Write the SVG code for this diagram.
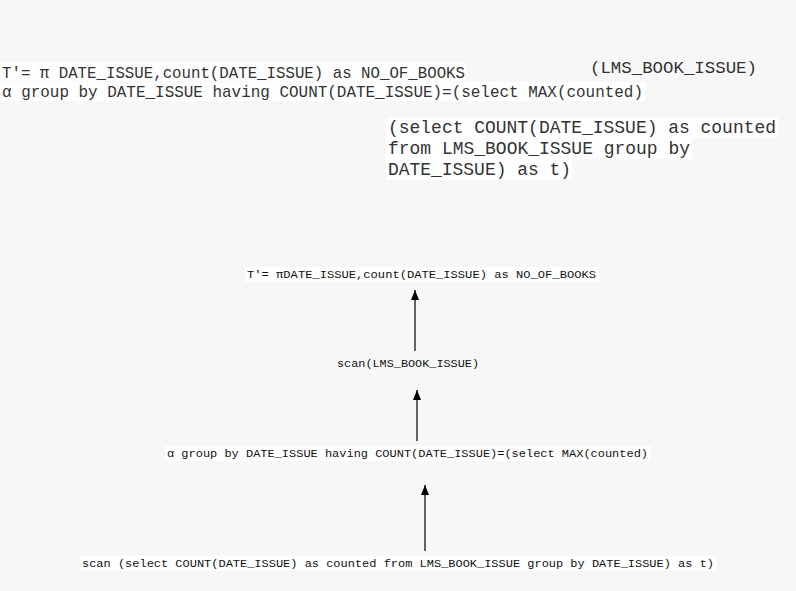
<svg xmlns="http://www.w3.org/2000/svg" width="796" height="591" viewBox="0 0 796 591">
  <defs>
    <marker id="arrow" markerWidth="10" markerHeight="8" refX="10" refY="4" orient="auto" markerUnits="userSpaceOnUse" viewBox="0 0 10 8">
      <path d="M0,0 L10,4 L0,8 Z" fill="#000"/>
    </marker>
  </defs>
  <style>
    .bg { fill: #f7f7f7; }
    .hl { fill: #ffffff; }
    .mono { fill: #333; }
    .node { font-size: 11.8px; fill: #111; }
    .edge { stroke: #000; stroke-width: 1.2; fill: none; marker-end: url(#arrow); }
  </style>
  <rect class="bg" x="0" y="0" width="796" height="591"/>

  <!-- query text, top block -->
  <g id="query-text" font-family="Courier New, Liberation Mono, monospace">
    <rect class="hl" x="0" y="62" width="466" height="19"/>
    <rect class="hl" x="0" y="82" width="645" height="19"/>
    <text class="mono" x="2" y="78" font-size="15.7" textLength="463" lengthAdjust="spacingAndGlyphs">T'= π DATE_ISSUE,count(DATE_ISSUE) as NO_OF_BOOKS</text>
    <text class="mono" x="2" y="97" font-size="15.7" textLength="641" lengthAdjust="spacingAndGlyphs">α group by DATE_ISSUE having COUNT(DATE_ISSUE)=(select MAX(counted)</text>
    <text class="mono" x="590" y="73" font-size="17.4" textLength="167" lengthAdjust="spacingAndGlyphs">(LMS_BOOK_ISSUE)</text>
    <rect class="hl" x="386" y="117" width="392" height="21"/>
    <rect class="hl" x="386" y="138" width="306" height="21"/>
    <rect class="hl" x="386" y="159" width="186" height="21"/>
    <text class="mono" x="388" y="133" font-size="18" textLength="388" lengthAdjust="spacingAndGlyphs">(select COUNT(DATE_ISSUE) as counted</text>
    <text class="mono" x="388" y="154" font-size="18" textLength="302" lengthAdjust="spacingAndGlyphs">from LMS_BOOK_ISSUE group by</text>
    <text class="mono" x="388" y="175" font-size="18" textLength="183" lengthAdjust="spacingAndGlyphs">DATE_ISSUE) as t)</text>
  </g>

  <!-- plan tree nodes -->
  <g id="plan" font-family="Courier New, Liberation Mono, monospace">
  <g id="n-project">
    <rect class="hl" x="245" y="267" width="354" height="15"/>
    <text class="node" x="247" y="278" textLength="349" lengthAdjust="spacingAndGlyphs">T'= πDATE_ISSUE,count(DATE_ISSUE) as NO_OF_BOOKS</text>
  </g>
  <g id="n-scan-table">
    <text class="node" x="337" y="367" textLength="142" lengthAdjust="spacingAndGlyphs">scan(LMS_BOOK_ISSUE)</text>
  </g>
  <g id="n-group">
    <rect class="hl" x="165" y="446" width="486" height="15"/>
    <text class="node" x="167" y="457" textLength="481" lengthAdjust="spacingAndGlyphs">α group by DATE_ISSUE having COUNT(DATE_ISSUE)=(select MAX(counted)</text>
  </g>
  <g id="n-scan-sub">
    <rect class="hl" x="80" y="556" width="637" height="15"/>
    <text class="node" x="82" y="567" textLength="632" lengthAdjust="spacingAndGlyphs">scan (select COUNT(DATE_ISSUE) as counted from LMS_BOOK_ISSUE group by DATE_ISSUE) as t)</text>
  </g>
  </g>

  <!-- connectors -->
  <g id="edges">
    <line class="edge" x1="415" y1="351" x2="415" y2="290"/>
    <line class="edge" x1="417" y1="441" x2="417" y2="390"/>
    <line class="edge" x1="425" y1="551" x2="425" y2="485"/>
  </g>
</svg>
